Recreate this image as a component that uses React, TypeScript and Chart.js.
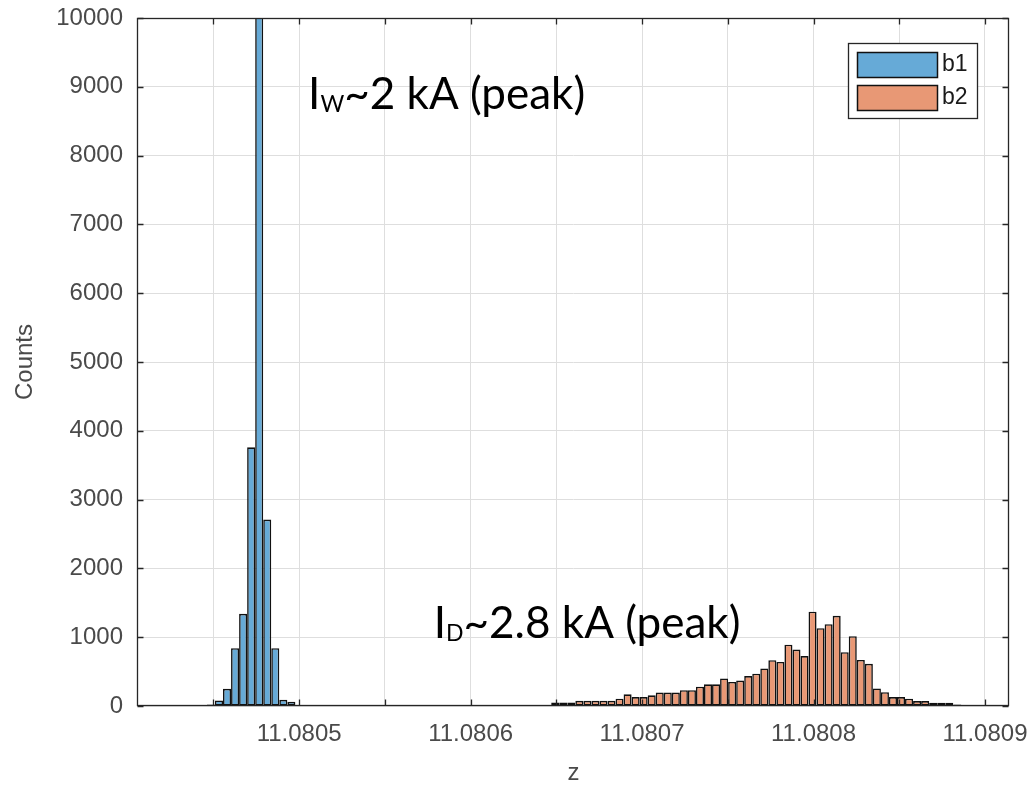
import React, { useEffect, useRef } from 'react';
import { Chart, registerables } from 'chart.js';

Chart.register(...registerables);

// ---------- data ----------
const seriesLabels = ['b1', 'b2'];
const BIN_WIDTH = 4.69e-6; // histogram bin width in z
const B1_FIRST_EDGE = 11.0804462; // left edge of first b1 bin
const B2_FIRST_EDGE = 11.0806470; // left edge of first b2 bin

// b1 counts (peak bin is clipped at the top of the axes)
const b1Counts = [20, 80, 250, 840, 1340, 3760, 14500, 2710, 840, 90, 60];

// b2 counts
const b2Counts = [
  50, 50, 50, 75, 75, 75, 75, 75, 107, 170,
  130, 130, 155, 195, 195, 195, 230, 230, 280, 315,
  315, 400, 350, 370, 435, 470, 545, 665, 640, 890,
  820, 725, 1370, 1130, 1190, 1310, 783, 1014, 670, 613,
  256, 200, 130, 130, 106, 72, 72, 48, 48, 48,
  20,
];

const X_MIN = 11.080406;
const X_MAX = 11.080914;
const X_TICK_STEP = 0.00005;
const X_LABEL_STEP = 0.0001;
const Y_MIN = 0;
const Y_MAX = 10000;
const Y_TICK_STEP = 1000;

const xTitle = 'z';
const yTitle = 'Counts';

const annotations = [
  { main: 'I', sub: 'W', rest: '~2 kA (peak)', z: 11.0805052, count: 8680 },
  { main: 'I', sub: 'D', rest: '~2.8 kA (peak)', z: 11.0805785, count: 990 },
];

// ---------- styles ----------
const B1_COLOR = 'rgb(102,170,215)';
const B2_COLOR = 'rgb(232,152,117)';
const EDGE_COLOR = '#111111';
const AXIS_COLOR = '#262626';
const GRID_COLOR = '#dedede';
const TEXT_COLOR = '#4a4a4a';
const AXIS_FONT = '"Liberation Sans", Arial, Helvetica, sans-serif';
const ANN_FONT = 'Lato, "Open Sans", sans-serif';

const boxAndExtrasPlugin = {
  id: 'boxAndExtras',
  afterDatasetsDraw(chart: any) {
    const { ctx, chartArea, scales } = chart;
    const { left, right, top, bottom } = chartArea;
    const xs = scales.x;
    const ys = scales.y;
    ctx.save();
    // axes box
    ctx.strokeStyle = AXIS_COLOR;
    ctx.lineWidth = 1.3;
    const l = Math.round(left) - 0.5;
    const r = Math.round(right) - 0.5;
    const t = Math.round(top) + 0.5;
    const b = Math.round(bottom) - 0.5;
    ctx.strokeRect(l, t, r - l, b - t);
    // inward tick marks
    const TL = 6;
    ctx.beginPath();
    xs.ticks.forEach((tk: any) => {
      const px = Math.round(xs.getPixelForValue(tk.value)) + 0.5;
      ctx.moveTo(px, b);
      ctx.lineTo(px, b - TL);
      ctx.moveTo(px, t);
      ctx.lineTo(px, t + TL);
    });
    ys.ticks.forEach((tk: any) => {
      const py = Math.round(ys.getPixelForValue(tk.value)) + 0.5;
      ctx.moveTo(l, py);
      ctx.lineTo(l + TL, py);
      ctx.moveTo(r, py);
      ctx.lineTo(r - TL, py);
    });
    ctx.stroke();

    // annotations
    annotations.forEach((a) => {
      let x = xs.getPixelForValue(a.z);
      const y = ys.getPixelForValue(a.count);
      ctx.fillStyle = '#000';
      ctx.textBaseline = 'alphabetic';
      ctx.textAlign = 'left';
      ctx.font = `44px ${ANN_FONT}`;
      ctx.fillText(a.main, x, y);
      x += ctx.measureText(a.main).width;
      ctx.font = `23px ${ANN_FONT}`;
      ctx.fillText(a.sub, x, y + 3);
      x += ctx.measureText(a.sub).width;
      ctx.font = `44px ${ANN_FONT}`;
      ctx.fillText(a.rest, x, y);
    });

    // legend
    const lw = 129;
    const lh = 75;
    const lx = Math.round(right) - 161;
    const ly = Math.round(top) + 25;
    ctx.fillStyle = '#ffffff';
    ctx.fillRect(lx, ly, lw, lh);
    ctx.strokeStyle = AXIS_COLOR;
    ctx.lineWidth = 1.3;
    ctx.strokeRect(lx + 0.5, ly + 0.5, lw, lh);
    chart.data.datasets.forEach((ds: any, i: number) => {
      const sx = lx + 9;
      const sy = ly + 9 + i * 33;
      ctx.fillStyle = ds.backgroundColor;
      ctx.fillRect(sx, sy, 81, 25);
      ctx.strokeStyle = EDGE_COLOR;
      ctx.lineWidth = 1.5;
      ctx.strokeRect(sx + 0.5, sy + 0.5, 80, 25);
      ctx.fillStyle = '#1a1a1a';
      ctx.font = `23px ${AXIS_FONT}`;
      ctx.textBaseline = 'middle';
      ctx.textAlign = 'left';
      ctx.fillText(ds.label, sx + 85, sy + 13);
    });
    ctx.restore();
  },
};

export default function App() {
  const ref = useRef<HTMLCanvasElement>(null);
  useEffect(() => {
    const canvas = ref.current;
    if (!canvas) return;
    const mk = (first: number, counts: number[]) =>
      counts.map((c, i) => ({ x: first + (i + 0.5) * BIN_WIDTH, y: c }));
    const common = {
      borderColor: EDGE_COLOR,
      borderWidth: 1.6,
      borderSkipped: false,
      grouped: false,
      barPercentage: 1,
      categoryPercentage: 1,
      inflateAmount: 0,
    };
    const chart = new Chart(canvas, {
      type: 'bar',
      data: {
        datasets: [
          { label: seriesLabels[0], data: mk(B1_FIRST_EDGE, b1Counts), backgroundColor: B1_COLOR, ...common } as any,
          { label: seriesLabels[1], data: mk(B2_FIRST_EDGE, b2Counts), backgroundColor: B2_COLOR, ...common } as any,
        ],
      },
      options: {
        animation: false,
        responsive: false,
        maintainAspectRatio: false,
        layout: { padding: { left: 0, right: 21, top: 18, bottom: 0 } },
        plugins: { legend: { display: false }, tooltip: { enabled: false } },
        scales: {
          x: {
            type: 'linear',
            min: X_MIN,
            max: X_MAX,
            offset: false,
            grid: { offset: false, color: GRID_COLOR, drawTicks: false, lineWidth: 1 },
            border: { display: false },
            ticks: {
              stepSize: X_TICK_STEP,
              includeBounds: false,
              autoSkip: false,
              maxRotation: 0,
              minRotation: 0,
              padding: 14,
              color: TEXT_COLOR,
              font: { family: AXIS_FONT, size: 24 },
              callback: (v: any) => {
                const k = Number(v) / X_LABEL_STEP;
                return Math.abs(k - Math.round(k)) < 1e-3 ? Number(v).toFixed(4) : '';
              },
            },
            title: {
              display: true,
              text: xTitle,
              color: TEXT_COLOR,
              font: { family: AXIS_FONT, size: 24, lineHeight: 1 },
              padding: { top: 0, bottom: 0 },
            },
            afterFit: (s: any) => {
              s.height = 79;
              s.paddingLeft = 0;
              s.paddingRight = 0;
              s.paddingTop = 0;
              s.paddingBottom = 0;
            },
          } as any,
          y: {
            type: 'linear',
            min: Y_MIN,
            max: Y_MAX,
            grid: { color: GRID_COLOR, drawTicks: false, lineWidth: 1 },
            border: { display: false },
            ticks: {
              stepSize: Y_TICK_STEP,
              padding: 15,
              color: TEXT_COLOR,
              font: { family: AXIS_FONT, size: 24 },
              callback: (v: any) => String(v),
            },
            title: {
              display: true,
              text: yTitle,
              color: TEXT_COLOR,
              font: { family: AXIS_FONT, size: 24 },
              padding: { top: 11, bottom: 0 },
            },
            afterFit: (s: any) => {
              s.width = 138;
              s.paddingLeft = 0;
              s.paddingRight = 0;
              s.paddingTop = 0;
              s.paddingBottom = 0;
            },
          } as any,
        },
      },
      plugins: [boxAndExtrasPlugin],
    });
    return () => chart.destroy();
  }, []);
  return (
    <div style={{ position: 'absolute', left: 0, top: 0, width: 1030, height: 785, background: '#ffffff' }}>
      <canvas ref={ref} width={1030} height={785} style={{ display: 'block' }} />
    </div>
  );
}
